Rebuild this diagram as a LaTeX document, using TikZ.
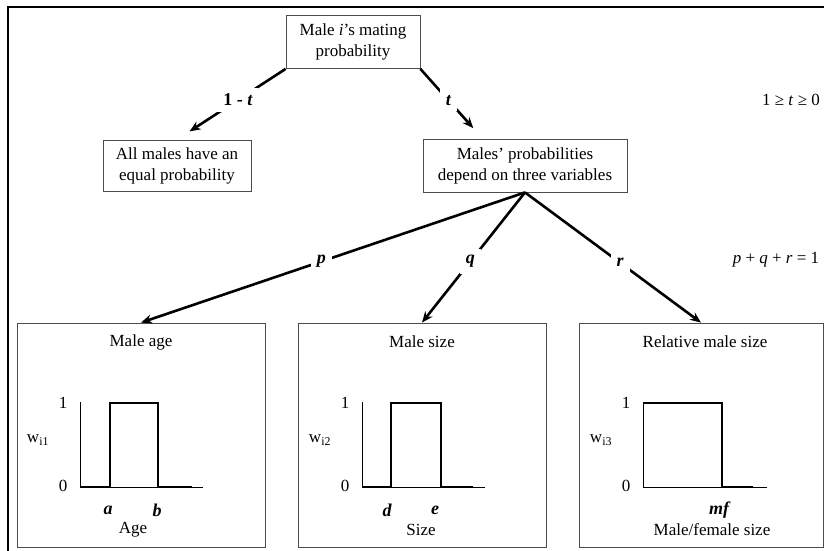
\documentclass[tikz,border=0pt]{standalone}
\usepackage{fontspec}
\setmainfont{Liberation Serif}
\usetikzlibrary{arrows.meta,calc}
\begin{document}
\begin{tikzpicture}[x=1pt,y=-1pt,
  font=\fontsize{17}{21}\selectfont,
  txtbox/.style={draw=black!70, line width=0.8pt, align=center, inner sep=0pt},
  panel/.style={draw=black!70, line width=0.8pt, inner sep=0pt},
  conn/.style={line width=2.6pt, -{Stealth[length=11pt,width=9pt]}},
  lbl/.style={fill=white, inner sep=6pt, font=\fontsize{18}{20}\selectfont\bfseries\itshape},
  vlbl/.style={inner sep=1pt, font=\fontsize{18}{20}\selectfont\bfseries\itshape},
  axisln/.style={line width=0.8pt},
  stepfn/.style={line width=2.6pt},
]
\useasboundingbox (0,0) rectangle (824,550);
% outer frame (only top and left edges are inside the picture)
\draw[line width=2.5pt] (8,560) -- (8,7) -- (830,7);

% text boxes
\node[txtbox, minimum width=134pt, minimum height=53pt] (top) at (353,42) {Male \textit{i}’s mating\\probability};
\node[txtbox, minimum width=148pt, minimum height=51pt] (left) at (177,165.5) {All males have an\\equal probability};
\node[txtbox, minimum width=204pt, minimum height=53pt] (right) at (525,165.5) {Males’ probabilities\\depend on three variables};

% panels
\node[panel, minimum width=248pt, minimum height=224pt] (b1) at (141,435) {};
\node[panel, minimum width=248pt, minimum height=224pt] (b2) at (422,435) {};
\node[panel, minimum width=244pt, minimum height=224pt] (b3) at (701,435) {};

% connectors
\coordinate (rt) at ($(right.north west)+(60,0)$);
\draw[conn, shorten >=15pt] (top.south west) -- node[lbl, pos=0.44]{\upshape 1 - \itshape t} (left.north);
\draw[conn, shorten >=14pt] (top.south east) -- node[lbl, pos=0.45]{t} (rt);
\draw[conn] (right.south) -- node[lbl, pos=0.53]{p} (b1.north);
\draw[conn] (right.south) -- node[lbl, pos=0.53]{q} (b2.north);
\draw[conn] (right.south) -- node[lbl, pos=0.54]{r} (b3.north);

% side conditions
\node (tcond) at (791,100) {1 ≥ \textit{t} ≥ 0};
\node (pqr) at (776,260) {\textit{p} + \textit{q} + \textit{r} = 1};

% panel 1
\node (b1title) at (141,342) {Male age};
\draw[axisln] (80,402) -- (80,487) -- (203,487);
\draw[stepfn] (80,487) -- (110,487) -- (110,403) -- (158,403) -- (158,487) -- (192,487);
\node (b1one) at (63,403) {1};
\node (b1zero) at (63,486) {0};
\node (b1w) at (38,440) {w\textsubscript{i1}};
\node[vlbl] (b1a) at (108,510) {a};
\node[vlbl] (b1b) at (157,510) {b};
\node (b1x) at (133,530) {Age};

% panel 2
\node (b2title) at (422,342) {Male size};
\draw[axisln] (362,402) -- (362,487) -- (485,487);
\draw[stepfn] (362,487) -- (391,487) -- (391,403) -- (441,403) -- (441,487) -- (473,487);
\node (b2one) at (345,403) {1};
\node (b2zero) at (345,486) {0};
\node (b2w) at (320,440) {w\textsubscript{i2}};
\node[vlbl] (b2d) at (387,510) {d};
\node[vlbl] (b2e) at (435,510) {e};
\node (b2x) at (421,530) {Size};

% panel 3
\node (b3title) at (705,342) {Relative male size};
\draw[axisln] (643,403) -- (643,487) -- (767,487);
\draw[stepfn] (643,403) -- (722,403) -- (722,487) -- (753,487);
\node (b3one) at (626,403) {1};
\node (b3zero) at (626,486) {0};
\node (b3w) at (601,440) {w\textsubscript{i3}};
\node[vlbl] (b3mf) at (719,510) {mf};
\node (b3x) at (712,530) {Male/female size};
\end{tikzpicture}
\end{document}
